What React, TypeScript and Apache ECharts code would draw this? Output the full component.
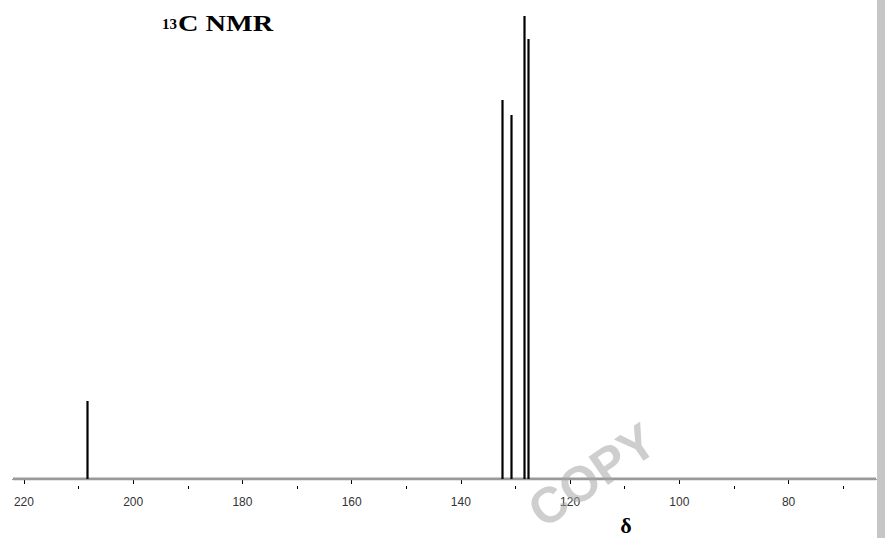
import React, { useEffect, useRef } from "react";
import * as echarts from "echarts";

const shifts = [208.5, 132.5, 130.8, 128.5, 127.8];
const intensities = [78, 379, 364, 463, 440];
const majorTicks = [220, 200, 180, 160, 140, 120, 100, 80];
const minorTicks = [210, 190, 170, 150, 130, 110, 90, 70];
const xRange = [64, 222];

export default function App() {
  const ref = useRef<HTMLDivElement>(null);
  useEffect(() => {
    const chart = echarts.init(ref.current!, null, { renderer: "svg" });
    const peaks = shifts.map((s, i) => [s, intensities[i]]);
    chart.setOption({
      animation: false,
      backgroundColor: "#ffffff",
      grid: { left: 13, right: 9, top: 0, bottom: 59, containLabel: false },
      xAxis: [
        {
          type: "value",
          inverse: true,
          min: xRange[0],
          max: xRange[1],
          offset: 7,
          axisLine: { show: true, lineStyle: { color: "#000", width: 1 } },
          axisTick: { show: true, customValues: majorTicks, length: 5, lineStyle: { color: "#000" } },
          axisLabel: {
            show: true,
            customValues: majorTicks,
            margin: 10,
            fontFamily: "Liberation Sans",
            fontSize: 12,
            color: "#333",
          },
          splitLine: { show: false },
        },
        {
          type: "value",
          inverse: true,
          min: xRange[0],
          max: xRange[1],
          offset: 7,
          position: "bottom",
          axisLine: { show: false },
          axisTick: { show: true, customValues: minorTicks, length: 3, lineStyle: { color: "#000" } },
          axisLabel: { show: false },
          splitLine: { show: false },
        },
      ],
      yAxis: { type: "value", min: 0, max: 479, show: false },
      series: [
        {
          type: "line",
          xAxisIndex: 0,
          data: [[xRange[1], 0], [xRange[0], 0]],
          symbol: "none",
          lineStyle: { color: "#999", width: 3 },
          z: 1,
        },
        {
          type: "custom",
          xAxisIndex: 0,
          data: peaks,
          renderItem: (params: any, api: any) => {
            const x = api.value(0);
            const h = api.value(1);
            const p0 = api.coord([x, 0]);
            const p1 = api.coord([x, h]);
            return {
              type: "line",
              shape: { x1: Math.round(p0[0]) + 0.5, y1: p0[1], x2: Math.round(p1[0]) + 0.5, y2: p1[1] },
              style: { stroke: "#000", lineWidth: 2.2 },
            };
          },
          z: 3,
        },
      ],
      graphic: [
        {
          type: "rect",
          shape: { x: 877, y: 0, width: 8, height: 538 },
          style: { fill: "#c6c6c6" },
          z: 10,
        },
        {
          type: "text",
          x: 162,
          y: 16,
          style: { text: "13", font: "bold 15px 'Liberation Serif'", fill: "#000", textVerticalAlign: "top" },
          z: 10,
        },
        {
          type: "text",
          x: 178,
          y: 35,
          scaleX: 1.18,
          style: { text: "C NMR", font: "bold 24px 'Liberation Serif'", fill: "#000", textVerticalAlign: "bottom" },
          z: 10,
        },
        {
          type: "text",
          x: 548,
          y: 536,
          rotation: 0.6,
          style: {
            text: "COPY",
            font: "bold 50px 'Liberation Sans'",
            fill: "rgba(165,165,165,0.55)",
            textVerticalAlign: "bottom",
            textAlign: "left",
          },
          z: 20,
        },
        {
          type: "text",
          x: 626,
          y: 536,
          style: { text: "δ", font: "bold 22px 'Liberation Serif'", fill: "#000", textAlign: "center", textVerticalAlign: "bottom" },
          z: 25,
        },
      ],
    });
    return () => chart.dispose();
  }, []);
  return <div ref={ref} style={{ position: "fixed", left: 0, top: 0, width: 885, height: 538 }} />;
}
